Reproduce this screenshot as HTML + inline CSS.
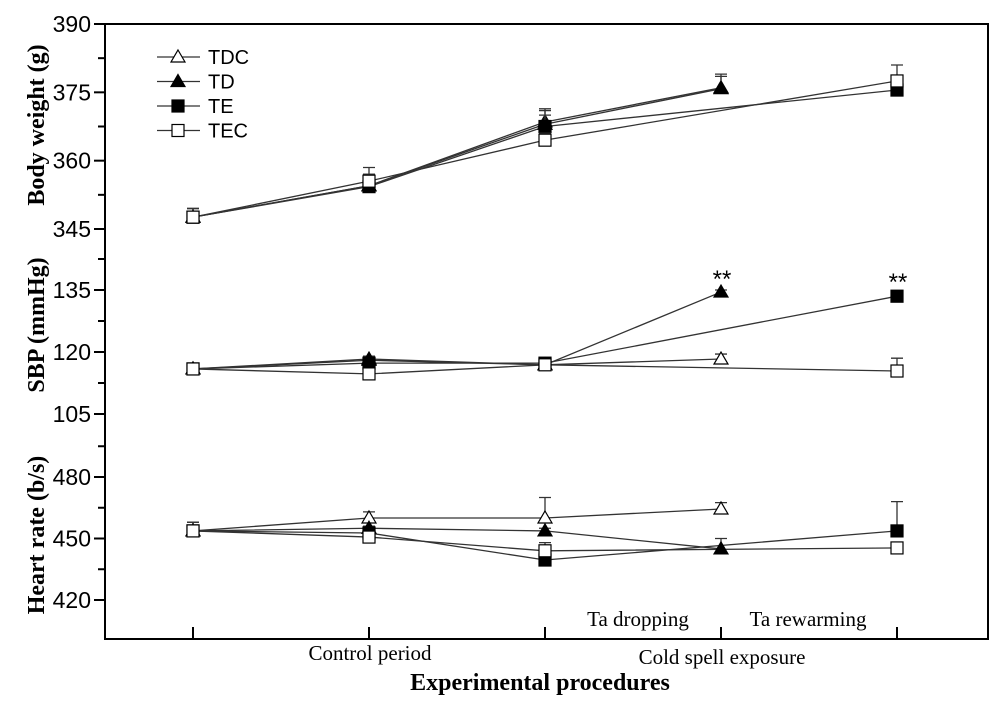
<!DOCTYPE html>
<html><head><meta charset="utf-8"><style>
body{margin:0;background:#fff;width:1000px;height:703px;overflow:hidden}
svg text{font-family:"Liberation Sans",sans-serif}
.serif{font-family:"Liberation Serif",serif}
</style></head><body>
<svg id="chart" width="1000" height="703">
<g id="frame"></g>
<g id="marks"></g>
<text transform="translate(44,125) rotate(-90)" text-anchor="middle" class="serif" font-weight="bold" font-size="24">Body weight (g)</text>
<text transform="translate(44,325) rotate(-90)" text-anchor="middle" class="serif" font-weight="bold" font-size="24">SBP (mmHg)</text>
<text transform="translate(44,535) rotate(-90)" text-anchor="middle" class="serif" font-weight="bold" font-size="24">Heart rate (b/s)</text>
<text x="370" y="660" text-anchor="middle" class="serif" font-size="21">Control period</text>
<text x="722" y="664" text-anchor="middle" class="serif" font-size="21">Cold spell exposure</text>
<text x="638" y="626" text-anchor="middle" class="serif" font-size="21">Ta dropping</text>
<text x="808" y="626" text-anchor="middle" class="serif" font-size="21">Ta rewarming</text>
<text x="540" y="690" text-anchor="middle" class="serif" font-weight="bold" font-size="24">Experimental procedures</text>
<text x="722" y="287" text-anchor="middle" font-size="24">**</text>
<text x="898" y="290" text-anchor="middle" font-size="24">**</text>
<g id="legend"></g>
</svg>
<script>
const NS="http://www.w3.org/2000/svg";
const seriesNames=["TDC","TD","TE","TEC"];
const xPositions=[0,1,2,3,4];
const bwTicks=[345,360,375,390];
const sbpTicks=[105,120,135];
const hrTicks=[420,450,480];
// body weight
const bwTDC=[347.6,354.5,368.5,376,null];
const bwTD=[347.6,354.5,368,375.8,null];
const bwTE=[347.6,354.3,367.5,null,375.5];
const bwTEC=[347.6,355.5,364.5,null,377.5];
const bwErr=[[349.5,357,371.4,379,null],[349.5,357,371,378.5,null],[349.5,356.5,370,null,377],[349.5,358.5,366,null,381]];
// SBP
const sbpTDC=[115.9,118,116.9,118.3,null];
const sbpTD=[115.9,118.3,116.9,134.5,null];
const sbpTE=[115.9,117.3,117.3,null,133.5];
const sbpTEC=[115.9,114.7,116.9,null,115.4];
const sbpErr=[[116.5,118.8,117.5,119.5,null],[117,119,117.5,135,null],[116.5,118,118,null,134.5],[116.5,115.5,117.5,null,118.5]];
// heart rate
const hrTDC=[453.7,460,460,464.4,null];
const hrTD=[453.7,455,453.7,444.9,null];
const hrTE=[453.7,452.7,439.5,null,453.7];
const hrTEC=[453.7,450.7,444,null,445.4];
const hrErr=[[458,463,470,467.5,null],[458,456,455,450,null],[458,453.5,441,null,468],[458,451.5,448,null,446]];

const xs=i=>193+i*176;
const yBW=v=>229-(v-345)*205/45;
const ySBP=v=>290+(135-v)*124/30;
const yHR=v=>477+(480-v)*123/60;

function el(tag,attrs,parent){const e=document.createElementNS(NS,tag);for(const k in attrs)e.setAttribute(k,attrs[k]);parent.appendChild(e);return e;}
const frame=document.getElementById('frame');
const marks=document.getElementById('marks');
let f=el('rect',{x:105,y:24,width:883,height:615,fill:'none',stroke:'#000','stroke-width':2},frame);


function yTicks(ticks,sc,step,name){
  ticks.forEach(t=>{
    let l=el('line',{x1:94,x2:105,y1:sc(t),y2:sc(t),stroke:'#000','stroke-width':2},frame);
    
    
    let m=el('line',{x1:98,x2:105,y1:sc(t+step/2),y2:sc(t+step/2),stroke:'#000','stroke-width':2},frame);
    
    
    let tx=el('text',{x:91,y:sc(t)+8,'text-anchor':'end','font-size':23},frame);
    tx.textContent=t;
    
    
  });
}
yTicks(bwTicks,yBW,15,'bw');
yTicks(sbpTicks,ySBP,15,'sbp');
yTicks(hrTicks,yHR,30,'hr');
xPositions.forEach(i=>{
  let l=el('line',{x1:xs(i),x2:xs(i),y1:627,y2:639,stroke:'#000','stroke-width':2},frame);
  
  
});
const styles=[{shape:'tri',fill:'#fff'},{shape:'tri',fill:'#000'},{shape:'sq',fill:'#000'},{shape:'sq',fill:'#fff'}];
function marker(x,y,s,parent,name){
  let m;
  if(s.shape==='tri') m=el('path',{d:`M${x} ${y-7}L${x+7} ${y+5}L${x-7} ${y+5}Z`,fill:s.fill,stroke:'#000','stroke-width':1.2},parent);
  else m=el('rect',{x:x-6,y:y-6,width:12,height:12,fill:s.fill,stroke:'#000','stroke-width':1.2},parent);
  
  
}
function panel(series,errs,sc,pname){
  series.forEach((vals,si)=>{
    const pts=[];vals.forEach((v,i)=>{if(v!==null)pts.push([xs(i),sc(v)]);});
    let p=el('polyline',{points:pts.map(q=>q.join(',')).join(' '),fill:'none',stroke:'#333','stroke-width':1.3},marks);
    
    
  });
  series.forEach((vals,si)=>{
    vals.forEach((v,i)=>{
      if(v===null)return;
      const e=errs[si][i];
      if(e!==null){
        let g=el('path',{d:`M${xs(i)} ${sc(v)}V${sc(e)}M${xs(i)-6} ${sc(e)}H${xs(i)+6}`,stroke:'#333','stroke-width':1.3,fill:'none'},marks);
        
        
      }
      marker(xs(i),sc(v),styles[si],marks,pname+'-point-'+seriesNames[si].toLowerCase());
    });
  });
}
panel([bwTDC,bwTD,bwTE,bwTEC],bwErr,yBW,'bw');
panel([sbpTDC,sbpTD,sbpTE,sbpTEC],sbpErr,ySBP,'sbp');
panel([hrTDC,hrTD,hrTE,hrTEC],hrErr,yHR,'hr');
const leg=document.getElementById('legend');
seriesNames.forEach((n,i)=>{
  const y=57+i*24.5;
  let l=el('line',{x1:157,x2:200,y1:y,y2:y,stroke:'#333','stroke-width':1.3},leg);
  
  
  marker(178,y,styles[i],leg,'legend-marker-'+n.toLowerCase());
  let t=el('text',{x:208,y:y+7,'font-size':20},leg);
  t.textContent=n;
  
  
});
</script>
</body></html>
